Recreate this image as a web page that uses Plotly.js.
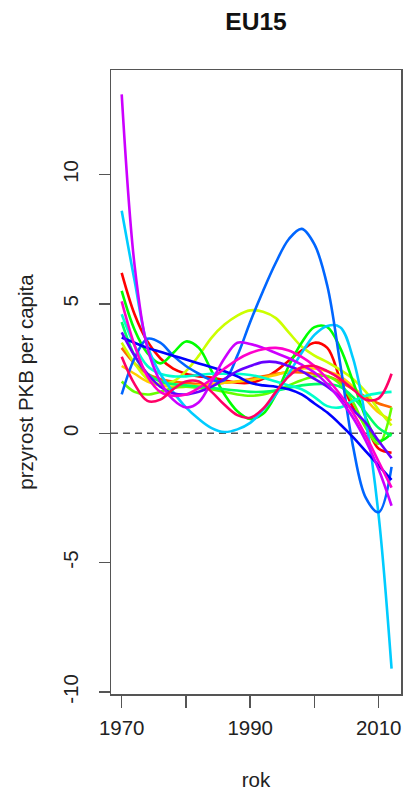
<!DOCTYPE html>
<html>
<head>
<meta charset="utf-8">
<script src="https://cdn.plot.ly/plotly-3.0.1.min.js"></script>
<style>html,body{margin:0;padding:0;background:#fff;}#chart{width:404px;height:791px;}</style>
</head>
<body>
<div id="chart"></div>
<script>
// Years sampled from the reference curves
const years = [1970,1972,1974,1976,1978,1980,1982,1984,1986,1988,1990,1992,1994,1996,1998,2000,2002,2004,2006,2008,2010,2012];

// Smoothed GDP per capita growth, one series per curve (colour order = rainbow(15))
const sRed        = [6.2,4.6,3.55,2.9,2.5,2.3,2.2,2.15,2.05,1.95,1.95,2.1,2.4,2.8,3.2,3.5,3.3,2.1,1.0,0.3,-0.6,-0.75];
const sOrange     = [3.3,2.7,2.3,2.1,2.0,1.95,1.9,1.9,1.95,2.0,2.1,2.2,2.3,2.35,2.35,2.3,2.2,2.0,1.7,1.4,1.15,1.0];
const sYellow     = [2.6,2.3,2.0,1.85,1.8,1.8,1.85,1.9,1.95,2.0,2.05,2.15,2.25,2.4,2.5,2.5,2.4,2.2,1.8,1.3,0.8,0.5];
const sYellowGrn  = [3.5,2.7,2.1,1.9,2.0,2.4,3.0,3.7,4.2,4.55,4.75,4.7,4.45,3.9,3.35,3.0,2.75,2.45,2.1,1.6,0.9,0.3];
const sLime       = [2.0,1.6,1.5,1.6,1.75,1.8,1.75,1.7,1.6,1.5,1.45,1.5,1.65,1.85,2.05,2.2,2.2,1.9,1.2,0.2,-0.4,1.0];
const sGreen      = [5.5,4.0,3.1,2.7,3.1,3.55,3.3,2.4,1.5,0.85,0.55,0.75,1.5,2.6,3.5,4.1,4.1,3.3,2.0,0.6,-0.3,0.0];
const sSpring     = [4.3,3.0,2.3,2.0,1.9,1.85,1.8,1.75,1.7,1.65,1.6,1.6,1.65,1.75,1.85,1.9,1.9,1.8,1.4,0.8,0.2,-0.1];
const sAqua       = [4.6,3.4,2.6,2.3,2.2,2.2,2.25,2.3,2.3,2.3,2.25,2.15,2.0,1.85,1.7,1.4,1.05,1.0,1.25,1.45,1.55,1.6];
const sCyan       = [8.6,5.9,3.4,2.3,1.6,1.0,0.55,0.2,0.05,0.15,0.4,0.9,1.5,2.3,3.1,3.8,4.15,4.1,2.9,0.5,-3.2,-9.1];
const sBlue       = [1.5,2.9,3.65,3.5,3.0,2.6,2.3,2.05,2.05,3.0,4.3,5.5,6.6,7.5,7.9,7.3,5.7,2.7,-0.5,-2.5,-3.05,-1.3];
const sNavy       = [3.7,3.5,3.3,3.15,3.0,2.85,2.7,2.55,2.4,2.2,1.95,1.85,1.8,1.7,1.5,1.15,0.8,0.35,-0.15,-0.7,-1.25,-1.8];
const sViolet     = [3.9,3.0,2.3,1.8,1.55,1.5,1.6,1.8,2.1,2.4,2.6,2.75,2.75,2.6,2.4,2.1,1.8,1.4,0.9,0.4,-0.3,-0.96];
const sPurple     = [13.1,6.5,3.3,2.0,1.3,1.0,1.2,2.0,2.9,3.5,3.45,3.3,3.1,2.9,2.65,2.35,1.9,1.3,0.6,-0.3,-1.4,-2.8];
const sPink       = [5.1,3.4,2.2,1.6,1.45,1.5,1.75,2.1,2.5,2.85,3.1,3.25,3.3,3.2,2.95,2.6,2.1,1.5,0.8,-0.1,-1.1,-2.1];
const sRose       = [2.96,1.9,1.25,1.3,1.7,2.0,2.0,1.6,1.1,0.7,0.6,0.95,1.6,2.2,2.55,2.6,2.4,2.1,1.7,1.3,1.35,2.3];

const series = [sRed,sOrange,sYellow,sYellowGrn,sLime,sGreen,sSpring,sAqua,sCyan,sBlue,sNavy,sViolet,sPurple,sPink,sRose];
const colors = ['#FF0000','#FF6600','#FFCC00','#CCFF00','#66FF00','#00FF00','#00FF66','#00FFCC','#00CCFF','#0066FF','#0000FF','#6600FF','#CC00FF','#FF00CC','#FF0066'];

const xTicks = [1970,1980,1990,2000,2010];
const xTickText = ['1970','','1990','','2010'];
const yTicks = [-10,-5,0,5,10];
const yTickText = ['-10','-5','0','5','10'];

const traces = series.map((s,i)=>({
  x: years, y: s, type:'scatter', mode:'lines',
  line:{color:colors[i], width:2.6, shape:'spline', smoothing:1},
  hoverinfo:'skip', showlegend:false
}));

const font = {family:'"Liberation Sans", Arial, sans-serif', size:20.5, color:'#222'};

const layout = {
  width:404, height:791,
  margin:{l:111, r:3, t:70, b:97},
  paper_bgcolor:'#fff', plot_bgcolor:'#fff',
  font: font,
  showlegend:false,
  title:{text:'<b>EU15</b>', font:{family:font.family, size:24.6, color:'#111'}, x:0.5, xref:'paper', y:1-21/791, yref:'container', yanchor:'middle'},
  xaxis:{
    range:[1968.335, 2013.47], tickvals:xTicks, ticktext:xTickText,
    showgrid:false, zeroline:false, showline:true, mirror:true, linecolor:'#555', linewidth:1.5,
    ticks:'outside', ticklen:12, tickwidth:1.5, tickcolor:'#555', tickfont:font,
    ticklabelstandoff:3,
    title:{text:'rok', font:font, standoff:44}
  },
  yaxis:{
    range:[-10.077, 14.04], tickvals:yTicks, ticktext:yTickText, tickangle:-90,
    showgrid:false, zeroline:false, showline:true, mirror:true, linecolor:'#555', linewidth:1.5,
    ticks:'outside', ticklen:11, tickwidth:1.5, tickcolor:'#555', tickfont:font,
    ticklabelstandoff:12,
    title:{text:'przyrost PKB per capita', font:font, standoff:20}
  },
  shapes:[{type:'line', xref:'paper', x0:0, x1:1, yref:'y', y0:0, y1:0,
           line:{color:'#555', width:1.5, dash:'7px,5px'}, layer:'below'}]
};

Plotly.newPlot('chart', traces, layout, {staticPlot:true, displayModeBar:false});
</script>
</body>
</html>
